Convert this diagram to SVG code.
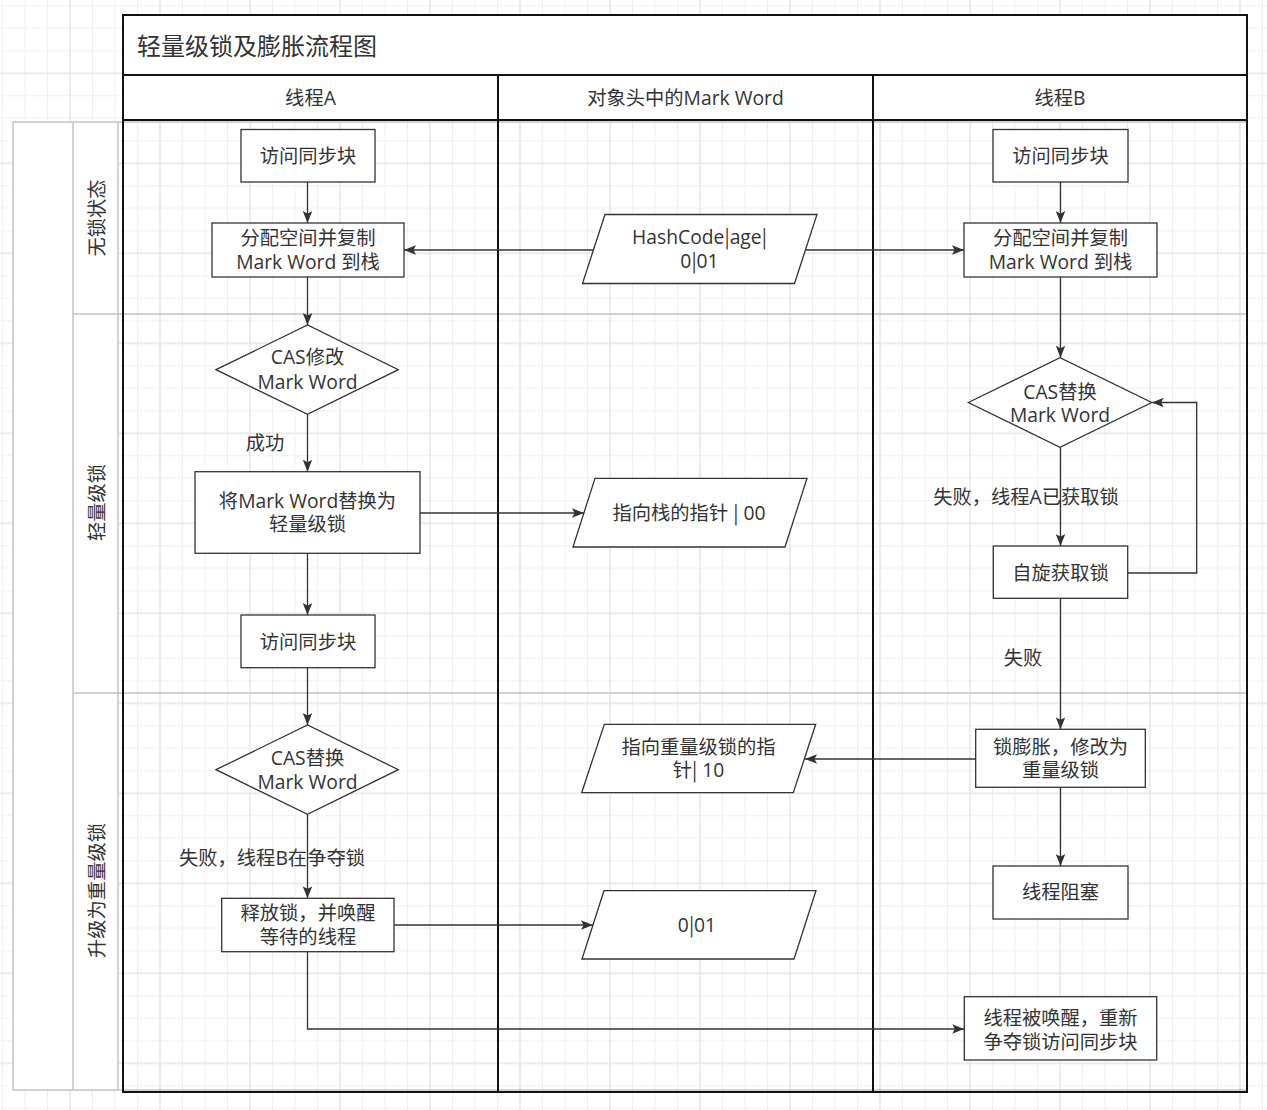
<svg xmlns="http://www.w3.org/2000/svg" width="1267" height="1110" viewBox="0 0 1267 1110">
<defs>
<pattern id="grid" x="-20" y="-16.7" width="90" height="90" patternUnits="userSpaceOnUse">
<path d="M22.5 0V90M45 0V90M67.5 0V90M0 22.5H90M0 45H90M0 67.5H90" stroke="#efefef" stroke-width="1" fill="none"/>
<path d="M0 0V90M90 0V90M0 0H90M0 90H90" stroke="#e6e6e6" stroke-width="1.5" fill="none"/>
</pattern>
<marker id="arr" viewBox="0 0 12 9.5" refX="12" refY="4.75" markerWidth="12" markerHeight="9.5" orient="auto" markerUnits="userSpaceOnUse">
<path d="M0,0 L12,4.75 L0,9.5 L2.5,4.75 z" fill="#333"/>
</marker>
<style>
.node{fill:#fff;stroke:#333;stroke-width:1.3}
.t{font-family:"Open Sans","Noto Sans CJK SC",sans-serif;font-size:19.3px;fill:#333;text-anchor:middle}
.bar{font-family:"Noto Sans CJK SC",sans-serif}
.edge{fill:none;stroke:#333;stroke-width:1.3;marker-end:url(#arr)}
.gray{fill:none;stroke:#c3c3c3;stroke-width:1.5}
.blk{fill:none;stroke:#111;stroke-width:2}
</style>
</defs>
<rect x="0" y="0" width="1267" height="1110" fill="#fff"/>
<rect x="0" y="0" width="1267" height="1110" fill="url(#grid)"/>

<g id="frame">
<rect x="13" y="122" width="105" height="968" fill="#fff"/>
<rect x="123" y="15" width="1124" height="105" fill="#fff"/>
<rect class="gray" x="13" y="122" width="1234" height="968"/>
<path class="gray" d="M73 122V1090M118 122V1090M73 314H1247M73 693H1247"/>
<rect class="blk" x="123" y="15" width="1124" height="1077"/>
<path class="blk" d="M123 75H1247M123 120H1247M498 75V1092M873 75V1092"/>
<text class="t" x="137" y="55" style="text-anchor:start;font-size:24px">轻量级锁及膨胀流程图</text>
<text class="t" x="310.5" y="105">线程A</text>
<text class="t" x="685.5" y="105">对象头中的Mark Word</text>
<text class="t" x="1060" y="105">线程B</text>
<text class="t" transform="translate(97,218) rotate(-90)" y="7">无锁状态</text>
<text class="t" transform="translate(97,502.5) rotate(-90)" y="7">轻量级锁</text>
<text class="t" transform="translate(97,890.5) rotate(-90)" y="7">升级为重量级锁</text>
</g>

<g id="connectors">
<path class="edge" d="M307.5 182V223"/>
<path class="edge" d="M307.5 277V325"/>
<path class="edge" d="M307.5 414.3V471.7"/>
<path class="edge" d="M307.5 553.3V615"/>
<path class="edge" d="M307.5 667.7V725"/>
<path class="edge" d="M307.5 814.3V898.3"/>
<path class="edge" d="M307.5 951.7V1029H964.3"/>
<path class="edge" d="M594 250H404"/>
<path class="edge" d="M805.5 250H964"/>
<path class="edge" d="M420 513H584"/>
<path class="edge" d="M975.7 759H805"/>
<path class="edge" d="M394 925H593"/>
<path class="edge" d="M1060.5 182V223"/>
<path class="edge" d="M1060.5 277V357.7"/>
<path class="edge" d="M1060.5 447.3V546"/>
<path class="edge" d="M1060.5 598.3V729.3"/>
<path class="edge" d="M1060.5 787.3V866"/>
<path class="edge" d="M1127.7 573H1196.7V402.5H1151.7"/>
<text class="t" x="265" y="450">成功</text>
<text class="t" x="272" y="865">失败，线程B在争夺锁</text>
<text class="t" x="1026" y="504">失败，线程A已获取锁</text>
<text class="t" x="1023" y="665">失败</text>
</g>

<g id="a-visit1"><rect class="node" x="241" y="129.5" width="134" height="52.5"/><text class="t" x="308" y="162.7">访问同步块</text></g>
<g id="a-copy"><rect class="node" x="212" y="223" width="192" height="54"/><text class="t" x="308" y="245">分配空间并复制</text><text class="t" x="308" y="269">Mark Word 到栈</text></g>
<g id="a-cas1"><polygon class="node" points="216,369.7 307.5,325 398.3,369.7 307.5,414.3"/><text class="t" x="307.5" y="364">CAS修改</text><text class="t" x="307.5" y="389">Mark Word</text></g>
<g id="a-replace"><rect class="node" x="195" y="471.7" width="225" height="81.6"/><text class="t" x="307.5" y="507.5">将Mark Word替换为</text><text class="t" x="307.5" y="531">轻量级锁</text></g>
<g id="a-visit2"><rect class="node" x="241" y="615" width="134" height="52.7"/><text class="t" x="308" y="648.7">访问同步块</text></g>
<g id="a-cas2"><polygon class="node" points="216,769.7 307.5,725 398.3,769.7 307.5,814.3"/><text class="t" x="307.5" y="765.3">CAS替换</text><text class="t" x="307.5" y="788.7">Mark Word</text></g>
<g id="a-release"><rect class="node" x="221.7" y="898.3" width="172.3" height="53.4"/><text class="t" x="308" y="920.3">释放锁，并唤醒</text><text class="t" x="308" y="943.7">等待的线程</text></g>

<g id="m-hash"><polygon class="node" points="605,214.5 817,214.5 794.5,283.5 582.5,283.5"/><text class="t" x="699.5" y="243.7">HashCode<tspan class="bar">|</tspan>age<tspan class="bar">|</tspan></text><text class="t" x="699.5" y="268">0<tspan class="bar">|</tspan>01</text></g>
<g id="m-stackptr"><polygon class="node" points="595,478.3 807,478.3 785,547 573,547"/><text class="t" x="689" y="520.3">指向栈的指针 <tspan class="bar">|</tspan> 00</text></g>
<g id="m-heavyptr"><polygon class="node" points="604.3,724.3 815.7,724.3 793.3,792.7 581.7,792.7"/><text class="t" x="698.5" y="753.7">指向重量级锁的指</text><text class="t" x="698.5" y="777">针<tspan class="bar">|</tspan> 10</text></g>
<g id="m-unlock"><polygon class="node" points="604,890.7 816,890.7 794,959 582,959"/><text class="t" x="697" y="932">0<tspan class="bar">|</tspan>01</text></g>

<g id="b-visit"><rect class="node" x="993" y="129.5" width="135" height="52.5"/><text class="t" x="1060.5" y="162.7">访问同步块</text></g>
<g id="b-copy"><rect class="node" x="964" y="223" width="193" height="54"/><text class="t" x="1060.5" y="245">分配空间并复制</text><text class="t" x="1060.5" y="269">Mark Word 到栈</text></g>
<g id="b-cas"><polygon class="node" points="968.3,402.5 1060,357.7 1151.7,402.5 1060,447.3"/><text class="t" x="1060" y="398.7">CAS替换</text><text class="t" x="1060" y="422">Mark Word</text></g>
<g id="b-spin"><rect class="node" x="993.3" y="546" width="134.4" height="52.3"/><text class="t" x="1060.5" y="580.3">自旋获取锁</text></g>
<g id="b-inflate"><rect class="node" x="975.7" y="729.3" width="169.6" height="58"/><text class="t" x="1060.5" y="753.7">锁膨胀，修改为</text><text class="t" x="1060.5" y="777">重量级锁</text></g>
<g id="b-block"><rect class="node" x="993" y="866" width="135" height="53"/><text class="t" x="1060.5" y="899">线程阻塞</text></g>
<g id="b-wake"><rect class="node" x="964.3" y="996.7" width="192.4" height="63.3"/><text class="t" x="1060.5" y="1025.3">线程被唤醒，重新</text><text class="t" x="1060.5" y="1048.7">争夺锁访问同步块</text></g>
</svg>
